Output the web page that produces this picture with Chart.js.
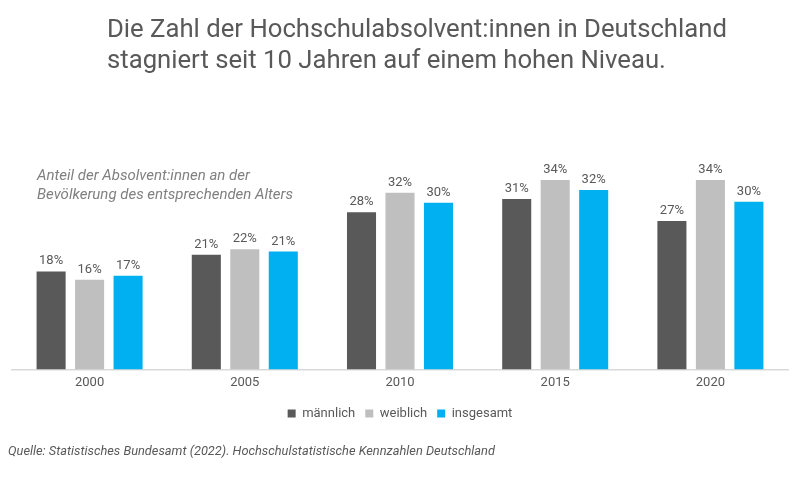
<!DOCTYPE html>
<html>
<head>
<meta charset="utf-8">
<script src="https://cdn.jsdelivr.net/npm/chart.js@4"></script>
<style>
  html, body { margin: 0; padding: 0; background: #ffffff; }
  #wrap { position: relative; width: 800px; height: 480px; overflow: hidden; font-family: Roboto, "Noto Sans", sans-serif; }
  #title { position: absolute; left: 107px; top: 13px; font-size: 25.7px; line-height: 31px; color: #595959; font-weight: 400; }
  #sub { position: absolute; left: 37px; top: 166px; font-size: 15px; line-height: 19px; color: #808080; font-style: italic; }
  #source { position: absolute; left: 8px; top: 443px; font-size: 12.8px; color: #595959; font-style: italic; }
  #c { position: absolute; left: 0; top: 0; }
</style>
</head>
<body>
<div id="wrap">
  <canvas id="c" width="800" height="480"></canvas>
  <div id="title">Die Zahl der Hochschulabsolvent:innen in Deutschland<br>stagniert seit 10 Jahren auf einem hohen Niveau.</div>
  <div id="sub">Anteil der Absolvent:innen an der<br>Bevölkerung des entsprechenden Alters</div>
  <div id="source">Quelle: Statistisches Bundesamt (2022). Hochschulstatistische Kennzahlen Deutschland</div>
</div>
<script>
const categories = ["2000", "2005", "2010", "2015", "2020"];
const seriesNames = ["männlich", "weiblich", "insgesamt"];
const maennlich = [17.7, 20.7, 28.4, 30.8, 26.8];
const weiblich  = [16.2, 21.7, 31.9, 34.2, 34.2];
const insgesamt = [16.9, 21.3, 30.1, 32.4, 30.3];
const colors = ["#595959", "#bfbfbf", "#00b0f0"];

const valueLabels = {
  id: 'valueLabels',
  afterDatasetsDraw(chart) {
    const ctx = chart.ctx;
    ctx.save();
    ctx.font = '13px Roboto, "Noto Sans", sans-serif';
    ctx.fillStyle = '#595959';
    ctx.textAlign = 'center';
    ctx.textBaseline = 'alphabetic';
    chart.data.datasets.forEach((ds, i) => {
      const meta = chart.getDatasetMeta(i);
      meta.data.forEach((el, j) => {
        ctx.fillText(Math.round(ds.data[j]) + '%', el.x, el.y - 7);
      });
    });
    ctx.restore();
  }
};

new Chart(document.getElementById('c'), {
  type: 'bar',
  data: {
    labels: categories,
    datasets: [
      { label: seriesNames[0], data: maennlich, backgroundColor: colors[0] },
      { label: seriesNames[1], data: weiblich, backgroundColor: colors[1] },
      { label: seriesNames[2], data: insgesamt, backgroundColor: colors[2] }
    ]
  },
  options: {
    responsive: false,
    animation: false,
    devicePixelRatio: 1,
    layout: { padding: { left: 12, right: 12, top: 148, bottom: 50 } },
    datasets: { bar: { categoryPercentage: 0.744, barPercentage: 0.755 } },
    scales: {
      x: {
        grid: { display: false, drawTicks: false },
        border: { display: true, color: '#d9d9d9', width: 1.5 },
        ticks: { color: '#595959', font: { family: 'Roboto', size: 13 }, padding: 6 }
      },
      y: {
        display: false,
        min: 0,
        max: 40
      }
    },
    plugins: {
      legend: {
        position: 'bottom',
        labels: {
          boxWidth: 8, boxHeight: 8, padding: 10,
          color: '#595959',
          font: { family: 'Roboto', size: 13 }
        }
      },
      tooltip: { enabled: false }
    }
  },
  plugins: [valueLabels]
});
</script>
</body>
</html>
